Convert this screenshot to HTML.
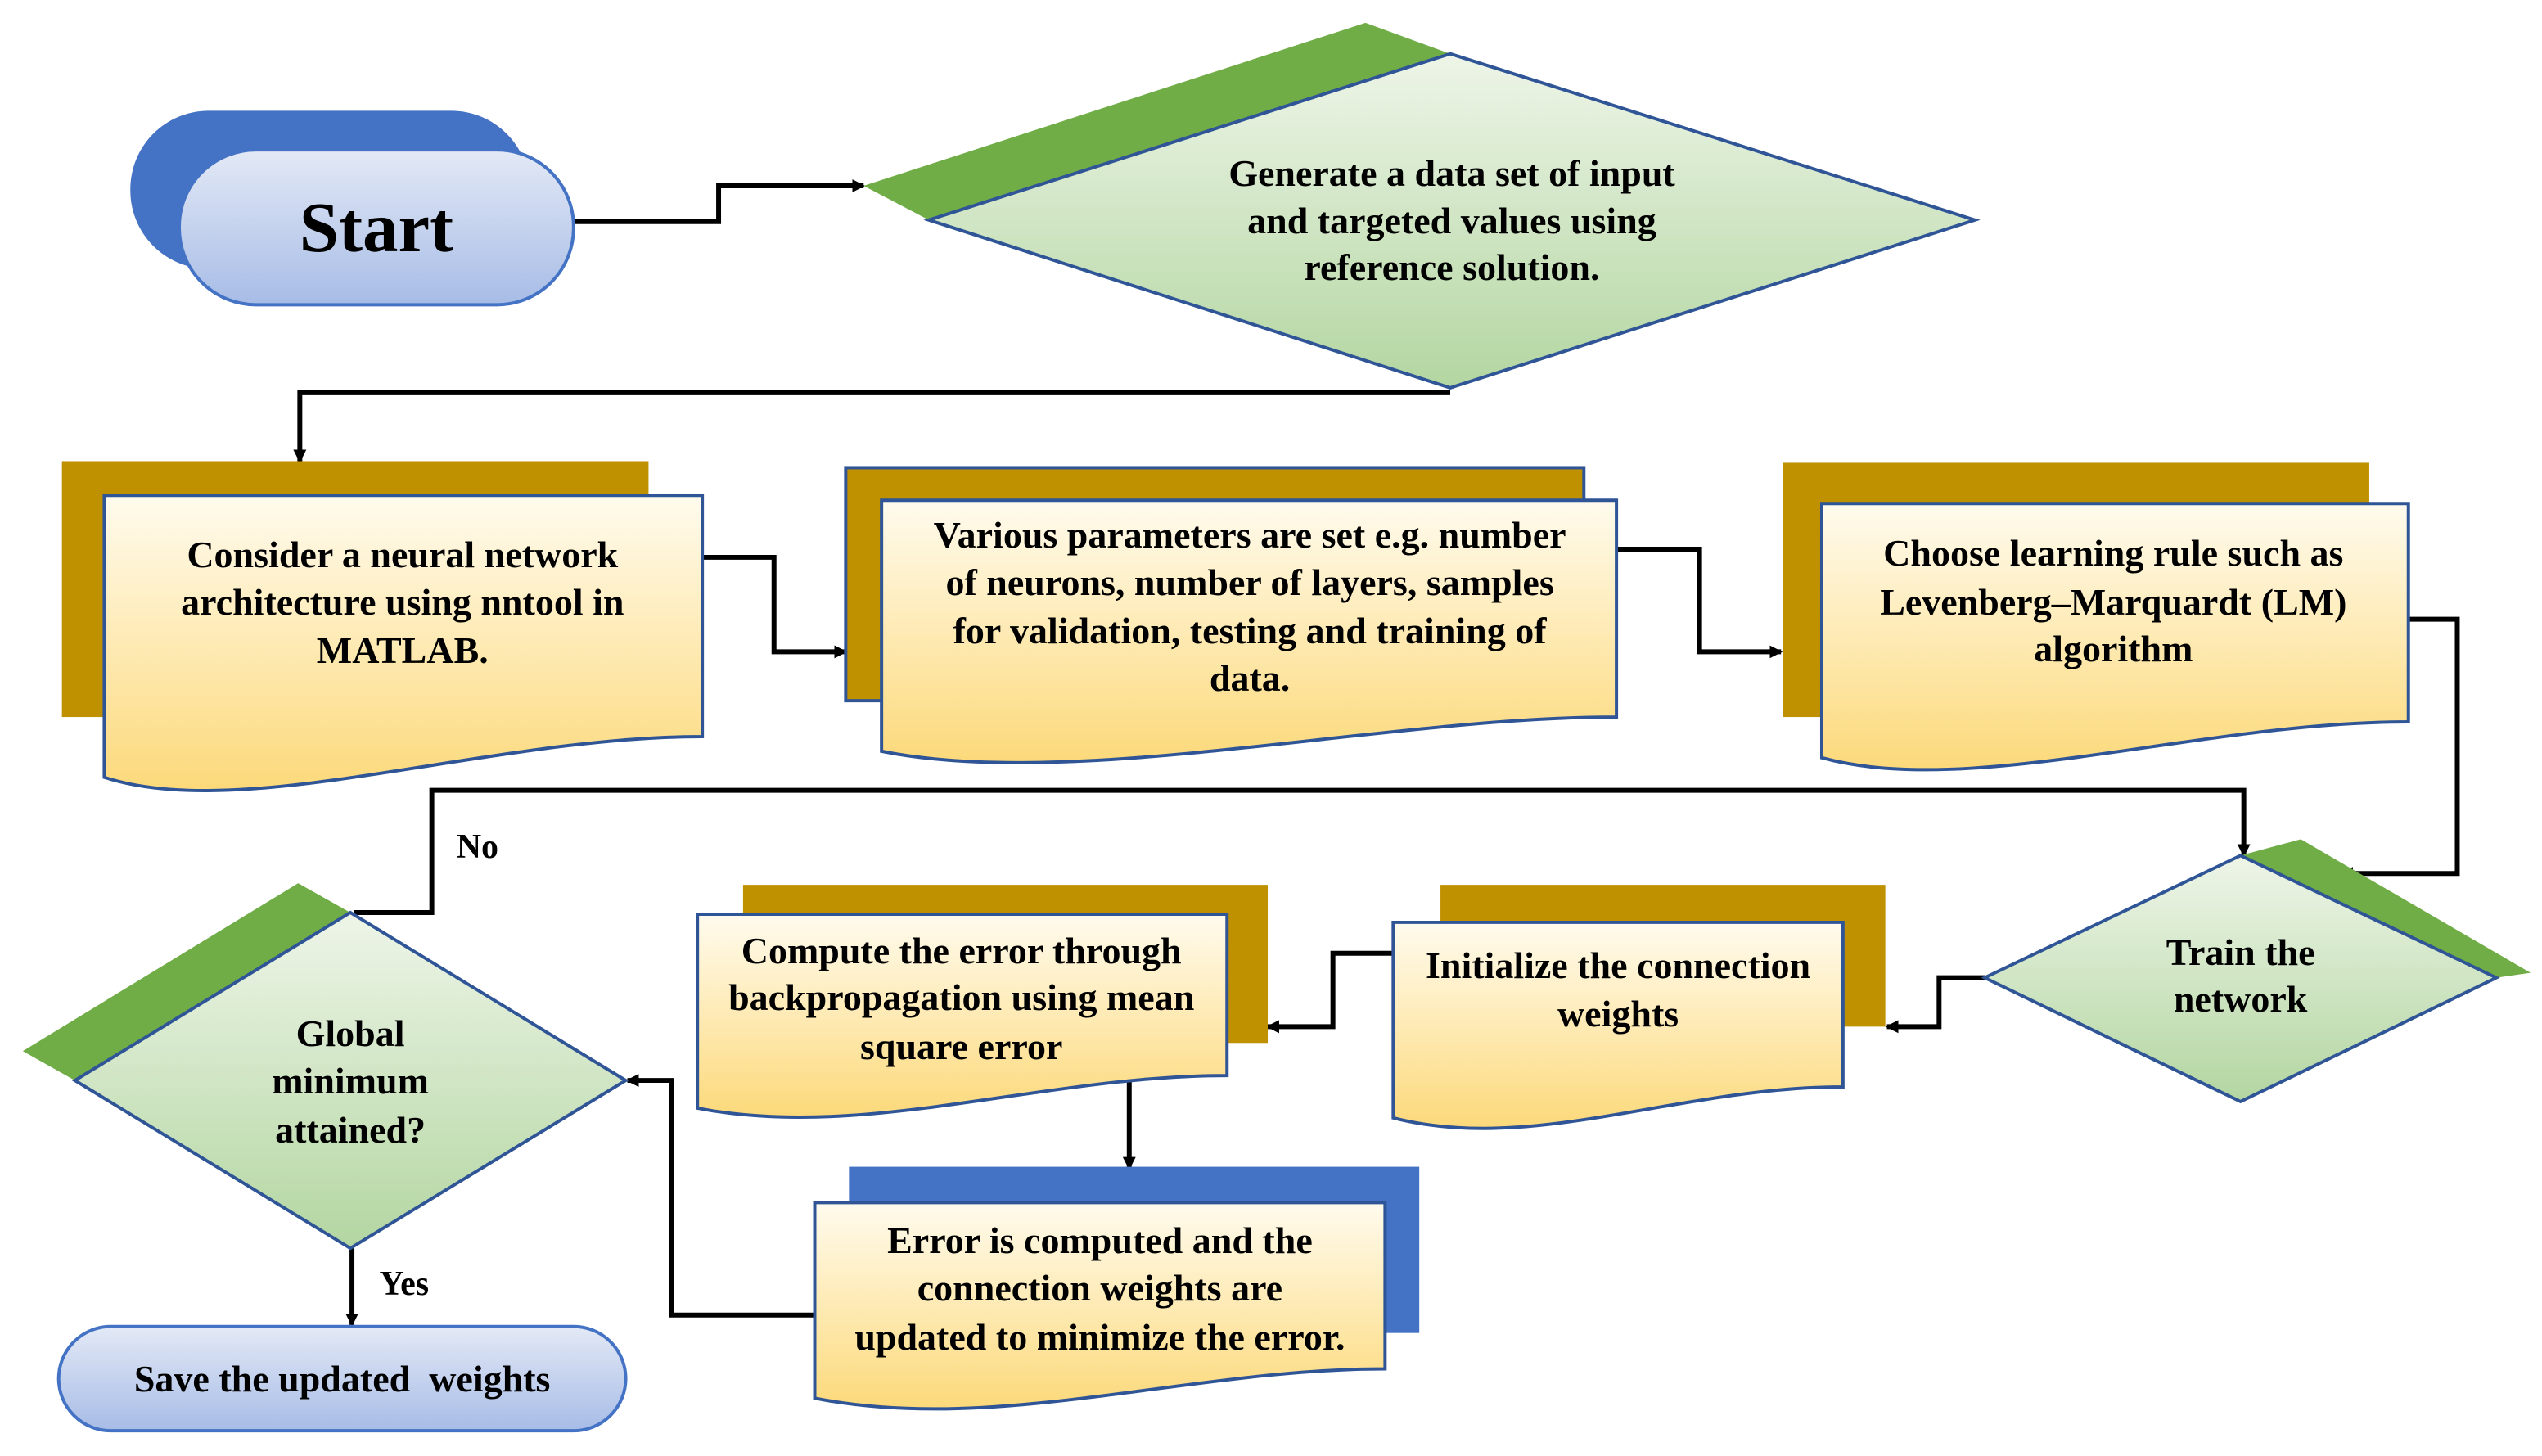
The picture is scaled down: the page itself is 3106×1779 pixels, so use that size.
<!DOCTYPE html>
<html><head><meta charset="utf-8"><style>
html,body{margin:0;padding:0;background:#fff;}
body{position:relative;width:3106px;height:1779px;overflow:hidden;}
svg{display:block;position:absolute;left:0;top:0;}
.t{position:absolute;width:1200px;text-align:center;white-space:pre;font-family:"Liberation Serif","Times New Roman",serif;font-weight:bold;color:#000;font-size:46px;line-height:46px;
left:calc(var(--x)*1.991px - 600px);top:calc(var(--y)*1.991px - 38px);}
.s{font-size:42px;line-height:42px;top:calc(var(--y)*1.991px - 35px);}
.big{font-size:87px;line-height:87px;top:calc(var(--y)*1.991px - 73px);}
</style></head><body>
<svg width="3106" height="1779" viewBox="0 0 1560 893.5" preserveAspectRatio="none" xmlns="http://www.w3.org/2000/svg">
<defs>
<linearGradient id="gy" x1="0" y1="0" x2="0" y2="1"><stop offset="0" stop-color="#fffbee"/><stop offset="1" stop-color="#fcd97a"/></linearGradient>
<linearGradient id="gg" x1="0" y1="0" x2="0" y2="1"><stop offset="0" stop-color="#eef5e8"/><stop offset="1" stop-color="#b3d6a1"/></linearGradient>
<linearGradient id="gb" x1="0" y1="0" x2="0" y2="1"><stop offset="0" stop-color="#e3e9f6"/><stop offset="1" stop-color="#a7bce6"/></linearGradient>
<marker id="ar" markerWidth="8" markerHeight="8" refX="7" refY="4" orient="auto" markerUnits="userSpaceOnUse"><path d="M0,0 L8,4 L0,8 z" fill="#000"/></marker>
</defs>
<g fill="none" stroke="#000" stroke-width="3" marker-end="url(#ar)">
<path d="M352,136 H441 V114 H530"/>
<path d="M890,241 H184 V283"/>
<path d="M431,342 H475 V400 H519"/>
<path d="M992,337 H1043 V400 H1093"/>
<path d="M1478,380 H1508 V536 H1437"/>
<path d="M217,560 H265 V485 H1377 V525"/>
<path d="M1218,600 H1190 V630 H1158"/>
<path d="M855,585 H818 V630 H778"/>
<path d="M693,660 V717"/>
<path d="M500,807 H412 V663 H385"/>
<path d="M216,766 V813"/>
</g>
<rect x="80" y="68" width="245" height="97" rx="48" fill="#4472c4"/>
<rect x="110" y="92" width="242" height="95" rx="47" fill="url(#gb)" stroke="#4472c4" stroke-width="2"/>
<polygon points="838,14 890,33 570,135 530,114" fill="#70ad47"/>
<polygon points="890,33 1212,135 890,238 570,135" fill="url(#gg)" stroke="#2f5597" stroke-width="2"/>
<rect x="38" y="283" width="360" height="157" fill="#bf9000"/>
<path d="M64,304 H431 V452 C300,452 150,505 64,477 Z" fill="url(#gy)" stroke="#2f5597" stroke-width="2"/>
<rect x="519" y="287" width="453" height="143" fill="#bf9000" stroke="#2f5597" stroke-width="2"/>
<path d="M541,307 H992 V440 C850,440 660,485 541,461 Z" fill="url(#gy)" stroke="#2f5597" stroke-width="2"/>
<rect x="1094" y="284" width="360" height="156" fill="#bf9000"/>
<path d="M1118,309 H1478 V443 C1350,443 1210,490 1118,465 Z" fill="url(#gy)" stroke="#2f5597" stroke-width="2"/>
<polygon points="1375,525 1412,515 1553,597 1532,600" fill="#70ad47"/>
<polygon points="1375,525 1532,600 1375,676 1218,600" fill="url(#gg)" stroke="#2f5597" stroke-width="2"/>
<rect x="884" y="543" width="273" height="87" fill="#bf9000"/>
<path d="M855,566 H1131 V667 C1030,667 940,708 855,686 Z" fill="url(#gy)" stroke="#2f5597" stroke-width="2"/>
<rect x="456" y="543" width="322" height="97" fill="#bf9000"/>
<path d="M428,561 H753 V660 C640,660 530,700 428,680 Z" fill="url(#gy)" stroke="#2f5597" stroke-width="2"/>
<rect x="521" y="716" width="350" height="102" fill="#4472c4"/>
<path d="M500,738 H850 V840 C730,840 610,880 500,858 Z" fill="url(#gy)" stroke="#2f5597" stroke-width="2"/>
<polygon points="215,560 183,542 14,645 46,663" fill="#70ad47"/>
<polygon points="215,560 384,663 215,766 46,663" fill="url(#gg)" stroke="#2f5597" stroke-width="2"/>
<rect x="36" y="814" width="348" height="64" rx="32" fill="url(#gb)" stroke="#4472c4" stroke-width="2"/>
</svg>
<div class="t big" style="--x:231;--y:154">Start</div>
<div class="t" style="--x:891;--y:114">Generate a data set of input</div>
<div class="t" style="--x:891;--y:143">and targeted values using</div>
<div class="t" style="--x:891;--y:172">reference solution.</div>
<div class="t" style="--x:247;--y:348">Consider a neural network</div>
<div class="t" style="--x:247;--y:377">architecture using nntool in</div>
<div class="t" style="--x:247;--y:407">MATLAB.</div>
<div class="t" style="--x:767;--y:336">Various parameters are set e.g. number</div>
<div class="t" style="--x:767;--y:365">of neurons, number of layers, samples</div>
<div class="t" style="--x:767;--y:395">for validation, testing and training of</div>
<div class="t" style="--x:767;--y:424">data.</div>
<div class="t" style="--x:1297;--y:347">Choose learning rule such as</div>
<div class="t" style="--x:1297;--y:377">Levenberg–Marquardt (LM)</div>
<div class="t" style="--x:1297;--y:406">algorithm</div>
<div class="t" style="--x:1375;--y:592">Train the</div>
<div class="t" style="--x:1375;--y:621">network</div>
<div class="t s" style="--x:293;--y:527">No</div>
<div class="t" style="--x:993;--y:600">Initialize the connection</div>
<div class="t" style="--x:993;--y:630">weights</div>
<div class="t" style="--x:590;--y:591">Compute the error through</div>
<div class="t" style="--x:590;--y:620">backpropagation using mean</div>
<div class="t" style="--x:590;--y:650">square error</div>
<div class="t" style="--x:675;--y:769">Error is computed and the</div>
<div class="t" style="--x:675;--y:798">connection weights are</div>
<div class="t" style="--x:675;--y:828">updated to minimize the error.</div>
<div class="t" style="--x:215;--y:642">Global</div>
<div class="t" style="--x:215;--y:671">minimum</div>
<div class="t" style="--x:215;--y:701">attained?</div>
<div class="t s" style="--x:248;--y:795">Yes</div>
<div class="t" style="--x:210;--y:854">Save the updated  weights</div>
</body></html>
